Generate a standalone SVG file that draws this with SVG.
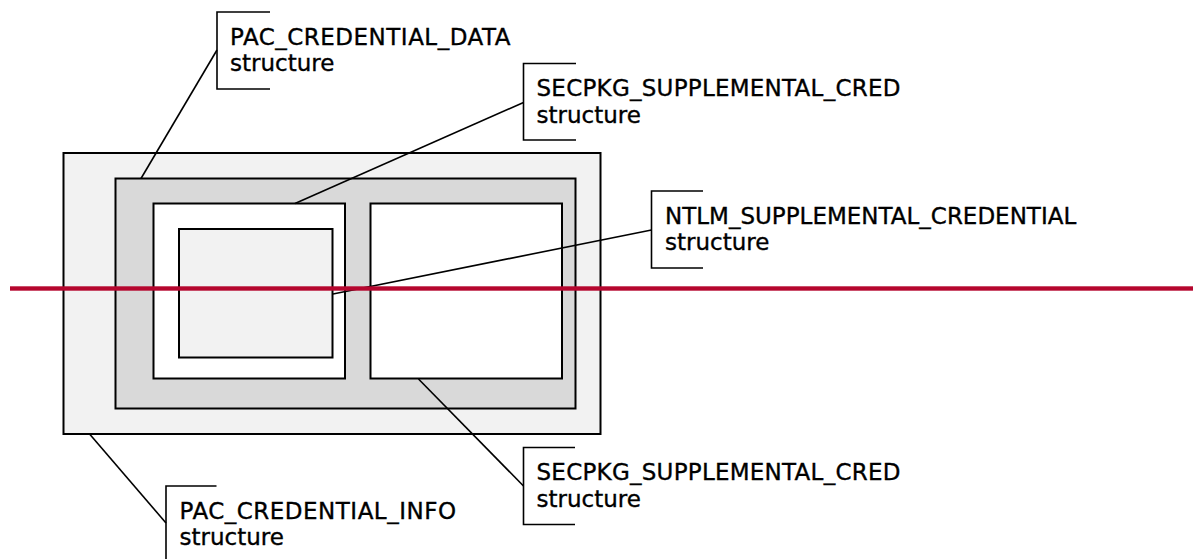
<svg xmlns="http://www.w3.org/2000/svg" width="1193" height="559" viewBox="0 0 1193 559">
<style>
.box{stroke:#000;stroke-width:2}
.lt{fill:#f2f2f2}
.gr{fill:#d9d9d9}
.wh{fill:#ffffff}
.ln{stroke:#000;stroke-width:1.6;fill:none}
.br{stroke:#000;stroke-width:1.6;fill:none}
text{font-family:"DejaVu Sans","Verdana",sans-serif;font-size:23px;fill:#000;stroke:#000;stroke-width:0.35}
</style>
<rect width="1193" height="559" fill="#fff"/>
<g id="pac-credential-info-box"><rect class="box lt" x="63.5" y="153" width="537" height="281"/></g>
<g id="pac-credential-data-box"><rect class="box gr" x="115.5" y="178.5" width="460" height="230"/></g>
<g id="secpkg-cred-1-box"><rect class="box wh" x="153.5" y="203.5" width="191.5" height="175"/></g>
<g id="ntlm-cred-box"><rect class="box lt" x="179" y="229" width="153.5" height="128.5"/></g>
<g id="secpkg-cred-2-box"><rect class="box wh" x="370.5" y="203.5" width="191.5" height="175"/></g>
<g id="connectors">
<line class="ln" x1="217" y1="50" x2="141" y2="178.5"/>
<line class="ln" x1="523.5" y1="102.5" x2="295" y2="203.5"/>
<line class="ln" x1="651.5" y1="230" x2="333" y2="294"/>
<line class="ln" x1="418.5" y1="379" x2="523.5" y2="486"/>
<line class="ln" x1="90" y1="434.5" x2="166" y2="523"/>
</g>
<g id="label-pac-credential-data">
<path class="br" d="M270 12H217V89H270"/>
<text x="230" y="44.5" letter-spacing="0.5">PAC_CREDENTIAL_DATA</text>
<text x="230" y="71">structure</text>
</g>
<g id="label-secpkg-top">
<path class="br" d="M576 63.5H523.5V140H576"/>
<text x="536.5" y="96" letter-spacing="0.25">SECPKG_SUPPLEMENTAL_CRED</text>
<text x="536.5" y="122.5">structure</text>
</g>
<g id="label-ntlm">
<path class="br" d="M703 191H651.5V268H703"/>
<text x="665" y="223.5">NTLM_SUPPLEMENTAL_CREDENTIAL</text>
<text x="665" y="250">structure</text>
</g>
<g id="label-secpkg-bottom">
<path class="br" d="M575 447.5H523.5V524.5H575"/>
<text x="536.5" y="480" letter-spacing="0.25">SECPKG_SUPPLEMENTAL_CRED</text>
<text x="536.5" y="506.5">structure</text>
</g>
<g id="label-pac-credential-info">
<path class="br" d="M216.5 486H166V563H216.5"/>
<text x="179.5" y="518.5" letter-spacing="0.5">PAC_CREDENTIAL_INFO</text>
<text x="179.5" y="545">structure</text>
</g>
<g id="red-line"><rect x="10" y="286.3" width="1183" height="4.4" fill="#b5062e"/></g>
</svg>
